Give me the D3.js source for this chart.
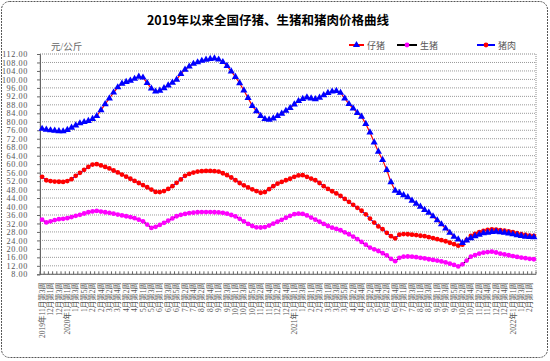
<!DOCTYPE html>
<html><head><meta charset="utf-8">
<script src="https://cdn.jsdelivr.net/npm/d3@7"></script>
<style>
html,body{margin:0;padding:0;background:#fff;}
svg{display:block;}
</style></head>
<body>
<svg id="c" width="550" height="361"></svg>
<script>
// ---- data ----
const seriesNames = ["仔猪", "生猪", "猪肉"];
// months covered and number of weekly points in each (first month starts at week 3)
const monthYears = [2019,2019,2020,2020,2020,2020,2020,2020,2020,2020,2020,2020,2020,2020,2021,2021,2021,2021,2021,2021,2021,2021,2021,2021,2021,2021,2022,2022];
const monthNums  = [11,12,1,2,3,4,5,6,7,8,9,10,11,12,1,2,3,4,5,6,7,8,9,10,11,12,1,2];
const monthWeekStart = [3,1,1,1,1,1,1,1,1,1,1,1,1,1,1,1,1,1,1,1,1,1,1,1,1,1,1,1];
const monthWeekCount = [2,4,5,4,4,5,4,5,4,5,4,5,4,5,4,4,5,4,4,5,4,4,5,4,4,5,4,2];
const yTicks = [8,12,16,20,24,28,32,36,40,44,48,52,56,60,64,68,72,76,80,84,88,92,96,100,104,108,112];

const piglet = [76.7,76.3,76.0,75.8,75.6,75.5,76.2,77.2,78.3,79.3,79.9,80.4,81.4,82.7,85.5,88.3,91.0,93.8,96.3,98.0,
98.8,99.4,100.3,101.3,100.9,98.3,95.7,94.3,94.7,95.9,97.2,98.5,99.9,102.6,104.6,106.1,107.4,108.1,108.8,109.3,
109.7,109.9,109.4,108.2,106.4,103.8,101.2,98.2,94.8,91.3,87.5,85.0,82.8,81.3,81.0,81.6,82.7,83.8,85.2,86.5,
88.2,89.8,90.8,91.5,91.0,90.7,91.4,92.6,93.6,94.3,94.6,93.7,91.0,88.4,86.3,84.2,82.4,79.0,75.0,70.3,
65.9,62.0,57.3,51.5,47.5,46.4,45.4,44.4,42.8,41.3,39.9,38.4,37.1,35.4,33.5,31.6,29.6,27.6,25.7,24.5,
22.8,24.0,25.1,26.0,26.7,27.4,27.7,28.0,28.1,27.9,27.7,27.3,26.9,26.5,26.1,25.8,25.6,25.5];

const hog = [33.8,32.5,33.0,33.6,34.0,34.2,34.5,35.0,35.6,36.1,36.7,37.3,37.7,37.9,37.6,37.3,37.0,36.6,36.2,35.8,
35.4,35.0,34.5,33.8,33.0,31.5,29.9,30.4,31.3,32.3,33.3,34.4,35.4,36.1,36.5,36.9,37.1,37.3,37.4,37.4,
37.4,37.3,37.2,37.0,36.6,36.0,35.3,34.2,33.0,31.8,30.8,30.2,30.1,30.3,31.0,31.9,32.8,33.7,34.7,35.6,
36.4,36.6,36.5,35.8,34.8,33.8,32.8,31.8,30.8,30.0,29.4,28.8,27.8,26.9,25.8,24.6,23.3,22.0,20.6,19.8,
19.0,18.0,16.9,15.3,14.2,15.8,16.3,16.4,16.3,16.1,15.8,15.5,15.1,14.8,14.5,14.1,13.6,13.0,12.4,11.7,
12.7,14.5,16.3,17.1,17.8,18.2,18.5,18.7,18.3,17.8,17.4,17.0,16.6,16.2,15.9,15.6,15.3,15.1];

const pork = [54.0,52.4,52.0,51.8,51.7,51.6,52.0,52.9,54.5,55.9,57.3,58.7,59.8,60.0,59.4,58.7,58.0,57.0,56.1,55.1,
54.1,53.1,52.1,51.1,50.1,49.1,48.0,46.9,46.8,47.3,48.3,49.6,51.2,52.8,54.5,55.4,56.0,56.5,56.7,56.8,
56.8,56.7,56.5,55.7,54.8,53.7,52.4,51.1,50.0,49.0,48.1,47.3,46.5,46.8,48.2,49.6,50.8,51.6,52.4,53.1,
54.0,54.7,54.8,54.0,53.2,52.4,51.1,49.6,48.3,47.2,46.2,45.0,43.6,42.2,40.8,39.4,38.0,36.3,34.3,32.4,
30.6,29.3,27.6,26.0,25.0,26.7,27.0,26.9,26.7,26.5,26.2,26.0,25.5,25.1,24.6,24.1,23.6,22.9,22.2,21.5,
22.0,24.2,26.1,27.1,27.9,28.5,29.0,29.2,29.1,28.9,28.6,28.3,27.9,27.4,27.0,26.6,26.3,26.1];

// ---- category labels ----
const categories = [];
monthNums.forEach((m, k) => {
  for (let w = 0; w < monthWeekCount[k]; w++) {
    const wk = monthWeekStart[k] + w;
    const first = categories.length === 0 || (m === 1 && wk === 1);
    categories.push((first ? monthYears[k] + "年" : "") + m + "月第" + wk + "周");
  }
});

// ---- drawing ----
const svg = d3.select("#c");
const L = 40, R = 536, T = 54, B = 274.3;
const x = d3.scaleBand().domain(d3.range(categories.length)).range([L, R]);
const cx = i => x(i) + x.bandwidth() / 2;
const y = d3.scaleLinear().domain([8, 112]).range([B, T]);
const serif = "'Liberation Serif','Noto Sans CJK SC',serif";

// outer rounded dashed border
svg.append("rect").attr("x", 1.5).attr("y", 1.5).attr("width", 546).attr("height", 356)
  .attr("rx", 8).attr("fill", "#fff").attr("stroke", "#555").attr("stroke-dasharray", "2,1");

// title
svg.append("text").attr("x", 268).attr("y", 25).attr("text-anchor", "middle")
  .attr("font-family", "'Noto Sans CJK SC',sans-serif").attr("font-weight", "bold")
  .attr("font-size", 12.5).attr("fill", "#000").text("2019年以来全国仔猪、生猪和猪肉价格曲线");

// unit
svg.append("text").attr("x", 51).attr("y", 50).attr("font-family", serif)
  .attr("font-size", 9.5).attr("fill", "#666").text("元/公斤");

// gridlines
svg.append("g").selectAll("line").data(yTicks.filter(v => v > 8 && v < 112)).join("line")
  .attr("x1", L).attr("x2", R).attr("y1", d => y(d)).attr("y2", d => y(d))
  .attr("stroke", "#9a9a9a").attr("stroke-width", 1).attr("stroke-dasharray", "1,1");

// plot border (dotted)
svg.append("rect").attr("x", L).attr("y", T).attr("width", R - L).attr("height", B - T)
  .attr("fill", "none").attr("stroke", "#8a8a8a").attr("stroke-dasharray", "1,1");

// y axis
const yAxis = d3.axisLeft(y).tickValues(yTicks).tickFormat(d3.format(".2f")).tickSize(3).tickPadding(9);
const gy = svg.append("g").attr("transform", `translate(${L},0)`).call(yAxis);
gy.select(".domain").attr("stroke", "#666");
gy.selectAll(".tick line").attr("stroke", "#666");
gy.selectAll("text").attr("font-family", serif).attr("font-size", 8.2).attr("fill", "#555")
  .attr("letter-spacing", "0.6px");

// x axis ticks (inside) and labels
const gx = svg.append("g");
gx.append("line").attr("x1", L).attr("x2", R).attr("y1", B).attr("y2", B).attr("stroke", "#666");
gx.selectAll("line.t").data(d3.range(categories.length + 1)).join("line").attr("class", "t")
  .attr("x1", i => L + i * x.step()).attr("x2", i => L + i * x.step())
  .attr("y1", B).attr("y2", B - 3).attr("stroke", "#666");
gx.selectAll("text").data(categories.map((c, i) => [c, i]).filter(d => d[1] % 2 === 0)).join("text")
  .attr("transform", d => `translate(${cx(d[1])},282) rotate(-90)`)
  .attr("text-anchor", "end").attr("dy", "0.35em")
  .attr("font-family", serif).attr("font-size", 7.5).attr("fill", "#555").text(d => d[0]);

// series
const line = d3.line().x((d, i) => cx(i)).y(d => y(d));
const tri = d3.symbol().type(d3.symbolTriangle).size(22);
const circ = d3.symbol().type(d3.symbolCircle).size(18);

function drawSeries(vals, lineColor, markColor, sym) {
  const g = svg.append("g");
  g.append("path").datum(vals).attr("d", line).attr("fill", "none")
    .attr("stroke", lineColor).attr("stroke-width", 1.2);
  g.selectAll("path.m").data(vals).join("path").attr("class", "m")
    .attr("transform", (d, i) => `translate(${cx(i)},${y(d)})`)
    .attr("d", sym).attr("fill", markColor);
}
drawSeries(hog, "#000", "#ff00ff", circ);
drawSeries(pork, "#0000ff", "#ff0000", circ);
drawSeries(piglet, "#ff0000", "#0000ff", tri);

// legend
const legend = [
  {name: seriesNames[0], lc: "#ff0000", mc: "#0000ff", sym: tri, x0: 349, x1: 364},
  {name: seriesNames[1], lc: "#000", mc: "#ff00ff", sym: circ, x0: 397, x1: 417},
  {name: seriesNames[2], lc: "#0000ff", mc: "#ff0000", sym: circ, x0: 477, x1: 495}
];
const lg = svg.append("g");
legend.forEach(l => {
  lg.append("line").attr("x1", l.x0).attr("x2", l.x1).attr("y1", 45).attr("y2", 45)
    .attr("stroke", l.lc).attr("stroke-width", 2);
  lg.append("path").attr("transform", `translate(${(l.x0 + l.x1) / 2},45)`).attr("d", l.sym).attr("fill", l.mc);
  lg.append("text").attr("x", l.x1 + 3).attr("y", 48.5).attr("font-family", serif)
    .attr("font-size", 9).attr("fill", "#555").text(l.name);
});
</script>
</body></html>
